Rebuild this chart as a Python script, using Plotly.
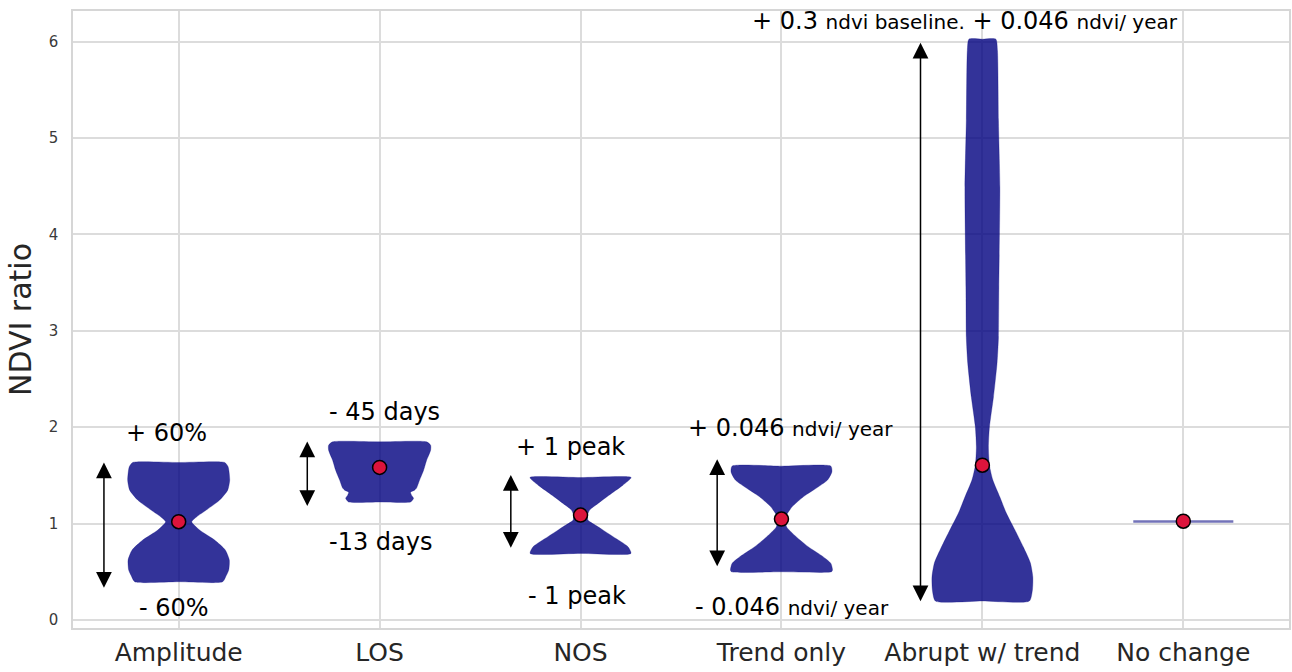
import plotly.graph_objects as go

# ---------------- data ----------------
categories = ["Amplitude", "LOS", "NOS", "Trend only", "Abrupt w/ trend", "No change"]

# violin outlines: NDVI-ratio levels and half-widths (fraction of category spacing)
amp_y = [0.397, 0.449, 0.518, 0.622, 0.726, 0.829, 0.933, 1.019, 1.071, 1.140, 1.244, 1.347, 1.451, 1.589, 1.634]
amp_w = [0.219, 0.234, 0.249, 0.252, 0.232, 0.179, 0.104, 0.065, 0.090, 0.137, 0.204, 0.244, 0.254, 0.246, 0.229]

los_y = [1.223, 1.244, 1.264, 1.295, 1.326, 1.347, 1.368, 1.451, 1.554, 1.658, 1.762, 1.813, 1.848]
los_w = [0.154, 0.164, 0.169, 0.159, 0.154, 0.174, 0.184, 0.199, 0.219, 0.234, 0.254, 0.254, 0.234]

nos_y = [0.691, 0.760, 0.864, 0.967, 1.036, 1.088, 1.140, 1.209, 1.313, 1.399, 1.478]
nos_w = [0.251, 0.236, 0.162, 0.087, 0.037, 0.035, 0.045, 0.087, 0.154, 0.211, 0.252]

trend_y = [0.500, 0.518, 0.587, 0.657, 0.760, 0.864, 0.968, 1.047, 1.088, 1.174, 1.278, 1.382, 1.451, 1.536, 1.596]
trend_w = [0.249, 0.254, 0.246, 0.207, 0.133, 0.073, 0.025, 0.022, 0.025, 0.053, 0.109, 0.184, 0.229, 0.251, 0.246]

abrupt_y = [0.197, 0.311, 0.446, 0.591, 0.756, 0.933, 1.109, 1.275, 1.451, 1.606, 1.793, 2.000,
            2.311, 2.663, 2.933, 3.451, 4.487, 5.181, 5.907, 6.025]
abrupt_w = [0.234, 0.249, 0.251, 0.239, 0.204, 0.162, 0.119, 0.087, 0.052, 0.035, 0.030, 0.035,
            0.055, 0.073, 0.080, 0.082, 0.087, 0.080, 0.075, 0.067]

nochange_y = [1.022, 1.022]
nochange_w = [0.249, 0.249]

median_vals = [1.020, 1.583, 1.088, 1.047, 1.606, 1.025]

# double arrows (offset from category centre, top, bottom)
arrow_offset = [-0.372, -0.360, -0.347, -0.320, -0.308]
arrow_top = [1.633, 1.851, 1.505, 1.668, 5.987]
arrow_bottom = [0.319, 1.166, 0.734, 0.543, 0.180]

SMALL = '<span style="font-size:20px">{}</span>'
label_texts = [
    "+ 60%", "- 60%",
    "- 45 days", "-13 days",
    "+ 1 peak", "- 1 peak",
    "+ 0.046 " + SMALL.format("ndvi/ year"), "- 0.046 " + SMALL.format("ndvi/ year"),
    "+ 0.3 " + SMALL.format("ndvi baseline.") + " + 0.046 " + SMALL.format("ndvi/ year"),
]
label_x = [-0.063, -0.023, 1.025, 1.005, 1.952, 1.981, 3.046, 3.051, 3.912]
label_y = [1.941, 0.125, 2.162, 0.813, 1.799, 0.252, 1.993, 0.138, 6.214]

# ---------------- figure ----------------
FONT = "DejaVu Sans"
FILL = "rgba(0,0,128,0.8)"

fig = go.Figure()

profiles = [(amp_y, amp_w), (los_y, los_w), (nos_y, nos_w),
            (trend_y, trend_w), (abrupt_y, abrupt_w)]
for i, (ys, ws) in enumerate(profiles):
    # closed outline: bottom centre -> right side up -> top centre -> left side down
    xs = [i] + [i + w for w in ws] + [i] + [i - w for w in reversed(ws)] + [i]
    yy = [ys[0]] + list(ys) + [ys[-1]] + list(reversed(ys)) + [ys[0]]
    fig.add_trace(go.Scatter(
        x=xs, y=yy, mode="lines", fill="toself", fillcolor=FILL,
        line=dict(color="rgba(0,0,128,0.35)", width=0.8, shape="spline", smoothing=0.6),
        showlegend=False, hoverinfo="skip"))

# degenerate "No change" violin (a flat line)
nc = len(categories) - 1
fig.add_trace(go.Scatter(
    x=[nc - nochange_w[0], nc + nochange_w[1]], y=nochange_y, mode="lines",
    line=dict(color="rgba(0,0,128,0.55)", width=2.5),
    showlegend=False, hoverinfo="skip"))

# median dots
fig.add_trace(go.Scatter(
    x=list(range(len(categories))), y=median_vals, mode="markers",
    marker=dict(color="#DC143C", size=14, line=dict(color="black", width=1.5)),
    showlegend=False, hoverinfo="skip"))

# double arrows
for i, (dx, t, b) in enumerate(zip(arrow_offset, arrow_top, arrow_bottom)):
    x = i + dx
    fig.add_annotation(
        x=x, y=t, ax=x, ay=b, xref="x", yref="y", axref="x", ayref="y",
        text="", showarrow=True, arrowhead=2, startarrowhead=2,
        arrowside="end+start", arrowsize=2.1, startarrowsize=2.1,
        arrowwidth=1.5, arrowcolor="black", standoff=0, startstandoff=0)

# text labels
for txt, x, y in zip(label_texts, label_x, label_y):
    fig.add_annotation(
        x=x, y=y, xref="x", yref="y", text=txt, showarrow=False,
        xanchor="center", yanchor="middle",
        font=dict(family=FONT, size=24, color="black"))

fig.update_layout(
    width=1292, height=672,
    margin=dict(l=73, r=3, t=11, b=44),
    paper_bgcolor="white", plot_bgcolor="white",
    font=dict(family=FONT, color="#262626"),
    showlegend=False,
)
fig.update_xaxes(
    range=[-0.526, 5.526], tickmode="array",
    tickvals=list(range(len(categories))), ticktext=categories,
    tickfont=dict(family=FONT, size=25, color="#262626"),
    showgrid=True, gridcolor="#dcdcdc", gridwidth=1.5,
    showline=True, linecolor="#d6d6d6", linewidth=1.5, mirror=True,
    zeroline=False, ticks="", automargin=False, ticklabelstandoff=1,
)
fig.update_yaxes(
    range=[-0.083, 6.317], tickmode="array", tickvals=[0, 1, 2, 3, 4, 5, 6],
    tickfont=dict(family=FONT, size=15, color="#3a3a3a"),
    title=dict(text="NDVI ratio", font=dict(family=FONT, size=30, color="#262626"), standoff=8),
    showgrid=True, gridcolor="#dcdcdc", gridwidth=1.5,
    showline=True, linecolor="#d6d6d6", linewidth=1.5, mirror=True,
    zeroline=False, ticks="", automargin=False, ticklabelstandoff=10,
)

fig.write_html("out.html")
